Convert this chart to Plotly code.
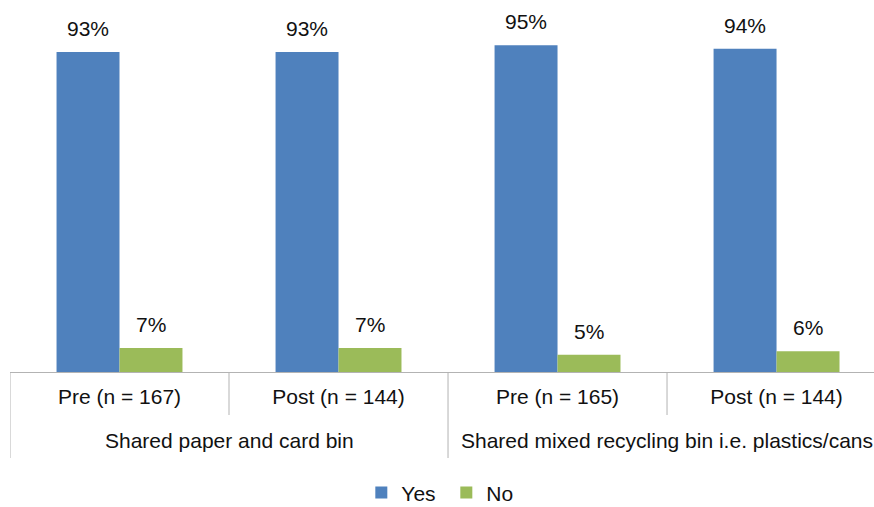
import plotly.graph_objects as go

# Survey groups and waves
bins = ["Shared paper and card bin", "Shared mixed recycling bin i.e. plastics/cans"]
waves = ["Pre (n = 167)", "Post (n = 144)", "Pre (n = 165)", "Post (n = 144)"]
wave_bin = [0, 0, 1, 1]  # which bin each wave belongs to

yes_pct = [93, 93, 95, 94]
no_pct = [7, 7, 5, 6]

FONT = "Liberation Sans, Arial, sans-serif"
TEXT = "#111111"
LINE = "#B3B3B3"
FS = 21

pos = list(range(len(waves)))

fig = go.Figure()
fig.add_trace(go.Bar(name="Yes", x=pos, y=yes_pct, marker_color="#4F81BD",
                     marker_line_width=0, offsetgroup="yes"))
fig.add_trace(go.Bar(name="No", x=pos, y=no_pct, marker_color="#9BBB59",
                     marker_line_width=0, offsetgroup="no"))

# value labels above each bar
bar_w = (1 - 0.425) / 2
for i in pos:
    for val, off in ((yes_pct[i], -bar_w / 2), (no_pct[i], bar_w / 2)):
        fig.add_annotation(x=i + off, y=val, xref="x", yref="y", text=f"{val}%",
                           showarrow=False, yanchor="bottom", yshift=10,
                           font=dict(size=FS, color=TEXT, family=FONT))

# outer group labels
for g, name in enumerate(bins):
    idx = [i for i, b in enumerate(wave_bin) if b == g]
    center = (idx[0] + idx[-1]) / 2
    fig.add_annotation(x=center, y=-0.198, xref="x", yref="paper", text=name,
                       showarrow=False, yanchor="middle",
                       font=dict(size=FS, color=TEXT, family=FONT))

# separators: short between waves, long between bins
for i in range(len(waves)):
    edge = i - 0.5
    long_sep = i == 0 or wave_bin[i] != wave_bin[i - 1]
    fig.add_shape(type="line", xref="x", yref="paper", x0=edge, x1=edge,
                  y0=0, y1=-0.25 if long_sep else -0.125,
                  line=dict(color=LINE, width=1))

fig.update_layout(
    width=874, height=507,
    barmode="group", bargap=0.425, bargroupgap=0,
    plot_bgcolor="white", paper_bgcolor="white",
    margin=dict(l=10, r=0, t=28, b=135, autoexpand=False),
    font=dict(family=FONT, size=FS, color=TEXT),
    showlegend=True,
    legend=dict(orientation="h", x=0.505, xanchor="center", yref="container",
                y=0.028, yanchor="middle", entrywidth=40,
                font=dict(size=FS, color=TEXT, family=FONT), itemwidth=30,
                traceorder="normal"),
    xaxis=dict(
        range=[-0.5, 3.445], tickmode="array", tickvals=pos, ticktext=waves,
        showline=True, linecolor=LINE, linewidth=1, ticks="", ticklabelstandoff=6,
        tickfont=dict(size=FS, family=FONT, color=TEXT),
        showgrid=False, zeroline=False, fixedrange=True, automargin=False,
    ),
    yaxis=dict(range=[0, 100], visible=False, showgrid=False, zeroline=False),
)

fig.write_html("out.html")
